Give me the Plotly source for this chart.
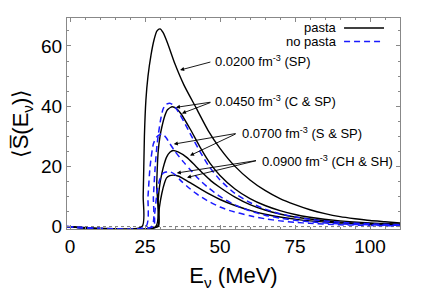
import plotly.graph_objects as go

# --- data ---
x_p020 = [-1, 24.0, 24.4, 24.8, 25.3, 26, 27, 28, 29, 30, 31, 32.5, 35, 38, 42, 46, 50, 55, 60, 65, 70, 75, 80, 85, 90, 95, 100, 105, 110]
y_p020 = [0, 0, 10, 30, 42, 50, 57, 62, 65, 65.7, 64.5, 61, 54, 47, 39.5, 32, 26, 20, 15.5, 12, 9.3, 7.3, 5.6, 4.3, 3.3, 2.6, 2.0, 1.6, 1.2]

x_p045 = [-1, 28.6, 28.9, 29.4, 30, 30.6, 31.5, 32.5, 34, 35.5, 37, 40, 43.3, 46.7, 50, 55, 60, 65, 70, 75, 80, 90, 100, 110]
y_p045 = [0, 0, 14, 25, 30, 33, 36.5, 38.8, 39.8, 39.2, 37.5, 32.5, 26.5, 21, 17, 12.5, 9.3, 7, 5.3, 4, 3.1, 1.9, 1.2, 0.8]

x_n045 = [-1, 27.2, 27.8, 28.4, 29, 29.5, 30.2, 31, 32, 33.3, 34.5, 36, 38, 40, 43, 46, 50, 55, 60, 65, 70, 75, 80, 90, 100, 110]
y_n045 = [0, 0, 10, 20, 27, 31, 35.5, 39, 40.6, 41, 40.3, 38.3, 34.8, 31, 25.5, 20.5, 15.5, 11, 8, 5.8, 4.3, 3.2, 2.4, 1.4, 0.9, 0.6]

x_p070 = [-1, 29.1, 29.4, 29.8, 30.6, 31.4, 32.2, 33.3, 34.4, 36, 38.9, 41.7, 44.4, 47, 50, 55, 60, 65, 70, 75, 80, 90, 100, 110]
y_p070 = [0, 0, 8.7, 13, 17.6, 20.8, 23.1, 24.7, 25.3, 24.8, 23, 20.3, 17.6, 15.2, 13, 9.8, 7.3, 5.5, 4.2, 3.2, 2.5, 1.5, 1.0, 0.7]

x_n070 = [-1, 25.3, 26, 26.7, 27.8, 28.9, 30, 30.8, 32, 33, 35, 37.8, 40, 43, 46, 50, 55, 60, 65, 70, 75, 80, 90, 100, 110]
y_n070 = [0, 0, 10, 20, 27.5, 29.8, 30.6, 30.8, 29.6, 28, 25, 21.5, 19, 15.7, 13, 10, 7.2, 5.2, 3.8, 2.8, 2.1, 1.6, 0.9, 0.6, 0.4]

x_p090 = [-1, 29.4, 29.6, 29.8, 30.6, 31.5, 32.2, 33.3, 34.4, 36, 38, 41, 44, 47, 50, 55, 60, 65, 70, 75, 80, 90, 100, 110]
y_p090 = [0, 0, 4, 6.4, 11, 14.5, 16.2, 16.9, 17.1, 16.8, 15.8, 14, 12.2, 10.5, 9, 7, 5.4, 4.1, 3.2, 2.5, 1.9, 1.2, 0.8, 0.5]

x_n090 = [-1, 27.8, 28.2, 28.7, 29.2, 29.8, 30.5, 31.1, 32, 33.3, 35, 37, 38.9, 42, 45.6, 50, 53.3, 60, 65, 70, 75, 80, 90, 100, 110]
y_n090 = [0, 0, 4, 8.7, 12.5, 15.3, 17, 17.8, 18.1, 18.2, 17.3, 15.2, 13.5, 11, 8.7, 6.5, 5.3, 3.6, 2.6, 1.9, 1.4, 1.1, 0.6, 0.4, 0.25]

x_ticks = [0, 25, 50, 75, 100]
y_ticks = [0, 20, 40, 60]

labels = ["0.0200 fm<sup>-3</sup> (SP)", "0.0450 fm<sup>-3</sup> (C & SP)",
          "0.0700 fm<sup>-3</sup> (S & SP)", "0.0900 fm<sup>-3</sup> (CH & SH)"]

BLUE = "#1a1aff"
fig = go.Figure()
for xs, ys in [(x_p020, y_p020), (x_p045, y_p045), (x_p070, y_p070), (x_p090, y_p090)]:
    fig.add_trace(go.Scatter(x=xs, y=ys, mode="lines", line=dict(color="black", width=1.4, shape="spline", smoothing=0.6), showlegend=False))
for xs, ys in [(x_n045, y_n045), (x_n070, y_n070), (x_n090, y_n090)]:
    fig.add_trace(go.Scatter(x=xs, y=ys, mode="lines", line=dict(color=BLUE, width=1.5, dash="6px,4px", shape="spline", smoothing=0.6), showlegend=False))

# dotted zero line
fig.add_shape(type="line", xref="paper", yref="y", x0=0, x1=1, y0=0, y1=0,
              line=dict(color="#777", width=1, dash="dot"), layer="below")

afont = dict(family="Liberation Sans, Arial", size=13, color="black")
# label texts
text_pos = [(47.8, 55.0), (47.8, 41.8), (56.5, 31.2), (63.3, 21.8)]
for (tx, ty), lab in zip(text_pos, labels):
    fig.add_annotation(x=tx, y=ty, text=lab, showarrow=False, xanchor="left", yanchor="middle", font=afont)

# arrows: (tail, head)
arrows = [
    ((47.3, 54.8), (36.7, 52.0)),
    ((47.3, 41.4), (35.3, 39.6)),
    ((47.3, 41.4), (37.3, 37.6)),
    ((55.7, 31.0), (34.6, 27.4)),
    ((55.7, 31.0), (40.0, 23.6)),
    ((62.5, 22.0), (35.6, 17.8)),
    ((62.5, 22.0), (39.0, 16.3)),
]
for (ax_, ay_), (hx, hy) in arrows:
    fig.add_annotation(x=hx, y=hy, ax=ax_, ay=ay_, axref="x", ayref="y", xref="x", yref="y",
                       text="", showarrow=True, arrowhead=2, arrowsize=0.9, arrowwidth=0.9, arrowcolor="black")

# legend (drawn manually: text left of line sample)
lfont = dict(family="Liberation Sans, Arial", size=13, color="black")
fig.add_annotation(xref="paper", yref="paper", x=0.816, y=0.953, text="pasta", showarrow=False,
                   xanchor="right", yanchor="middle", font=lfont)
fig.add_annotation(xref="paper", yref="paper", x=0.816, y=0.889, text="no pasta", showarrow=False,
                   xanchor="right", yanchor="middle", font=lfont)
fig.add_shape(type="line", xref="paper", yref="paper", x0=0.832, x1=0.952, y0=0.953, y1=0.953,
              line=dict(color="black", width=1.5))
fig.add_shape(type="line", xref="paper", yref="paper", x0=0.832, x1=0.952, y0=0.889, y1=0.889,
              line=dict(color=BLUE, width=1.5, dash="6px,4px"))

tfont = dict(family="Liberation Sans, Arial", size=22, color="black")
axis_common = dict(showline=True, linecolor="#888", linewidth=1, mirror="ticks", ticks="inside",
                   tickcolor="#888", ticklen=4, showgrid=False, zeroline=False, automargin=False,
                   tickfont=dict(family="Liberation Sans, Arial", size=19, color="black"))
fig.update_xaxes(range=[-1, 110], tickvals=x_ticks, minor=dict(dtick=5, ticks="inside", ticklen=2, tickcolor="#888"),
                 title=dict(text="E<sub>ν</sub> (MeV)", font=tfont, standoff=19),
                 **axis_common)
fig.update_yaxes(range=[-0.8, 69.3], tickvals=y_ticks, minor=dict(dtick=5, ticks="inside", ticklen=2, tickcolor="#888"),
                 title=dict(text="⟨S̅(E<sub>ν</sub>)⟩", font=tfont, standoff=6),
                 **axis_common)

# page body adds an 8px margin, so the figure is sized to fit the 424x299 window
fig.update_layout(width=408, height=283, margin=dict(l=59, r=16, t=10, b=62),
                  plot_bgcolor="white", paper_bgcolor="white", showlegend=False)
fig.write_html("out.html")
